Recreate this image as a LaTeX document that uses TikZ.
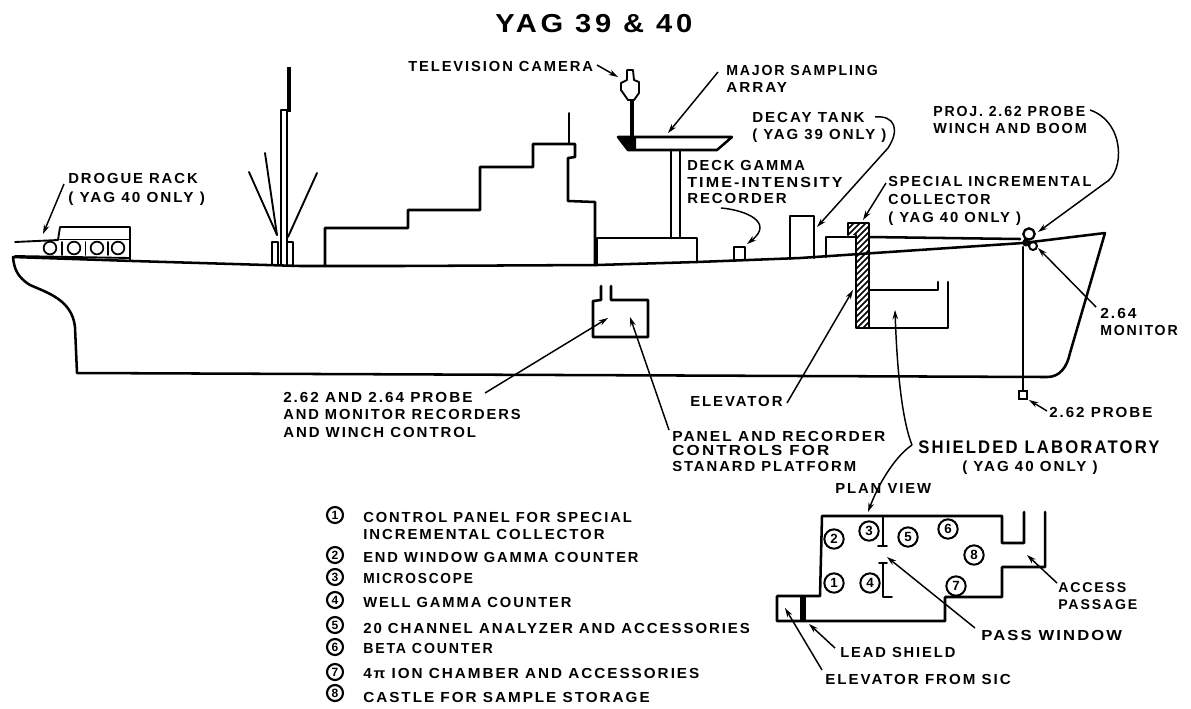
\documentclass[tikz,border=0pt]{standalone}
\usepackage{fontspec}
\usepackage{graphicx}
\setmainfont{Liberation Sans}[LetterSpace=13,WordSpace=1.0]
\usetikzlibrary{arrows.meta}
\tikzset{
  x=0.75pt,y=-0.75pt,
  hull/.style={line width=1.9pt,line join=round,line cap=round},
  thin part/.style={line width=1.4pt,line join=round,line cap=round},
  lead/.style={line width=1.1pt,-{Stealth[length=7pt,width=4.2pt]}},
  lab/.style={font=\bfseries\fontsize{10.6}{12.6}\selectfont,inner sep=0pt,align=left,anchor=north west,yshift=8pt},
  num/.style={circle,draw,line width=1.5pt,inner sep=0pt,minimum size=14.5pt,font=\bfseries\fontsize{10}{10}\selectfont},
  numsmall/.style={num,line width=1.6pt,minimum size=12pt,font=\bfseries\fontsize{9}{9}\selectfont}
}
\newcommand\Lbl[4]{\node[lab] (#1) at (#2,#3) {\rule{0pt}{8pt}#4};}
\newcommand\sx[2]{\scalebox{#1}[1.03]{#2}}
\begin{document}
\begin{tikzpicture}
\useasboundingbox (0,0) rectangle (1191,708);
% title
\node[font=\bfseries\fontsize{19.5}{20}\selectfont,inner sep=0pt,anchor=base west] (title) at (495,32) {\scalebox{1.12}[1]{YAG 39 \& 40}};
% hull
\draw[hull] (13,257) .. controls (14,268) and (17,277) .. (30,285) .. controls (48,293) and (72,300) .. (75,327)
  -- (77,373) -- (1047,377) .. controls (1060,377) and (1067,367) .. (1070,353) -- (1105,233)
  -- (1023,243) -- (800,258) -- (697,262) -- (597,265) -- (400,266) -- (300,266) -- (133,261) -- cycle;
% drogue rack
\draw[thin part] (15,242) -- (58,240) -- (60,227) -- (130,227) -- (130,260);
\draw[thin part] (60,239.5) -- (130,239.5);
\draw[thin part] (15,256) -- (130,258);
\foreach \n/\cx in {d1/50,d2/74,d3/97,d4/118}
  \node[circle,draw,line width=1.3pt,minimum size=9.5pt,inner sep=0pt] (\n) at (\cx,248) {};
\draw[thin part] (62,242) -- (62,255) (85.5,242) -- (85.5,255) (108,242) -- (108,255);
% mast
\draw[line width=3.6pt] (289,67) -- (289,112);
\draw[thin part] (281,265) -- (281,110) -- (287,110) -- (287,265);
\draw[thin part] (272,265) -- (272,242) -- (278,242) -- (278,265);
\draw[thin part] (287,242) -- (293,242) -- (293,265);
\draw[thin part] (249,172) -- (277,235);
\draw[thin part] (265,153) -- (277,235);
\draw[thin part] (317,173) -- (288,237);
% superstructure
\draw[hull] (325,265) -- (325,228) -- (408,228) -- (408,210) -- (480,210) -- (480,167) -- (533,167) -- (533,144)
  -- (575,144) -- (575,157) -- (568,158) -- (568,201) -- (595,202) -- (595,265);
\draw[thin part] (569,113) -- (569,144);
% platform and pole
\draw[hull] (597,265) -- (597,238) -- (697,238) -- (697,262);
\draw[hull] (671,238) -- (671,150) (680,238) -- (680,150);
% sampling array
\draw[hull] (618,137) -- (732,137) -- (717,150) -- (628,150) -- cycle;
\fill (618,137) -- (636,137) -- (636,150) -- (628,150) -- cycle;
% camera
\draw[line width=2.8pt] (632,100) -- (632,137);
\draw[thin part] (627,70) -- (633,70) -- (634,80) -- (639,82) -- (639,93) -- (634,100) -- (628,100) -- (621,90) -- (621,83) -- (627,80) -- cycle;
% compartment below deck
\draw[hull] (601,286) -- (601,300) -- (593,301) -- (593,337) -- (648,337) -- (648,300) -- (611,300) -- (611,286);
% recorder, decay tank, collector housing
\draw[thin part] (734,261) -- (734,247) -- (745,247) -- (745,260);
\draw[hull] (790,259) -- (790,216) -- (814,216) -- (814,258);
\draw[hull] (826,257) -- (826,237) -- (856,237);
\draw[hull] (869,237) -- (1020,239);
% elevator trunk
\begin{scope}
\clip (848,223) -- (869,223) -- (869,328) -- (856,328) -- (856,235) -- (848,235) -- cycle;
\foreach \i in {0,6,...,138} \draw[line width=1.2pt] (845,232+\i) -- (872,205+\i);
\end{scope}
\draw[hull] (848,235) -- (848,223) -- (869,223) -- (869,328);
\draw[hull] (856,235) -- (856,328) -- (948,328) -- (948,282);
\draw[hull] (869,290) -- (938,290) -- (938,282);
% winch, boom and probe
\node[circle,draw,line width=1.7pt,minimum size=8.5pt,inner sep=0pt] (winch) at (1029,234) {};
\node[circle,draw,line width=1.5pt,minimum size=6pt,inner sep=0pt] (mon) at (1033,246) {};
\fill (1026,243) circle (3.5);
\node[draw,line width=1.6pt,minimum size=6.5pt,inner sep=0pt] (probe) at (1023,395) {};
\draw[hull] (winch) -- (1023,243);
\draw[hull] (1023,247) -- (probe);
% plan view
\draw[hull] (1024,512) -- (1024,543) -- (1002,543) -- (1002,516) -- (822,516) -- (820,596) -- (777,596) -- (777,621)
  -- (945,621) -- (945,597) -- (1002,597) -- (1002,567) -- (1045,567) -- (1045,512);
\draw[line width=4.5pt] (803,597) -- (803,620);
\draw[thin part] (883,516) -- (883,546) (878,546) -- (887,546);
\draw[thin part] (879,563) -- (887,563) (883,563) -- (883,597) -- (892,597);
\foreach \n/\t/\cx/\cy in {p1/1/834/583,p2/2/834/539,p3/3/869/531,p4/4/870/583,p5/5/908/537,p6/6/948/529,p7/7/956/586,p8/8/974/555}
  \node[num] (\n) at (\cx,\cy) {\t};
% labels
\Lbl{tv}{408}{71}{\sx{1.04}{TELEVISION CAMERA}}
\Lbl{major}{726}{75}{\sx{1.0}{MAJOR SAMPLING}\\\sx{1.08}{ARRAY}}
\Lbl{decay}{752}{122}{\sx{1.07}{DECAY TANK}\\\sx{1.06}{( YAG 39 ONLY )}}
\Lbl{gamma}{687}{170}{\sx{1.035}{DECK GAMMA}\\\sx{1.14}{TIME-INTENSITY}\\\sx{1.06}{RECORDER}}
\Lbl{proj}{933}{116}{\sx{1.0}{PROJ. 2.62 PROBE}\\\sx{1.02}{WINCH AND BOOM}}
\Lbl{special}{888}{186}{\sx{1.025}{SPECIAL INCREMENTAL}\\[1pt]\sx{1.0}{COLLECTOR}\\[1pt]\sx{1.05}{( YAG 40 ONLY )}}
\Lbl{drogue}{68}{183}{\sx{1.05}{DROGUE RACK}\\[1.5pt]\sx{1.08}{( YAG 40 ONLY )}}
\Lbl{mon264}{1100}{318}{\sx{1.1}{2.64}\\\sx{1.0}{MONITOR}}
\Lbl{probe262}{1049}{417}{\sx{1.07}{2.62 PROBE}}
\Lbl{rec}{283}{402}{\sx{1.08}{2.62 AND 2.64 PROBE}\\\sx{1.04}{AND MONITOR RECORDERS}\\[1.5pt]\sx{1.06}{AND WINCH CONTROL}}
\Lbl{elev}{690}{406}{\sx{1.055}{ELEVATOR}}
\Lbl{panel}{672}{441}{\sx{1.10}{PANEL AND RECORDER}\\[-2pt]\sx{1.195}{CONTROLS FOR}\\[-.2pt]\sx{1.05}{STANARD PLATFORM}}
\node[lab,font=\bfseries\fontsize{12.2}{14}\selectfont,yshift=2pt] (shield) at (918,453) {\rule{0pt}{10pt}\scalebox{1.025}[1.12]{SHIELDED LABORATORY}};
\Lbl{yag40}{962}{471}{\sx{1.07}{( YAG 40 ONLY )}}
\Lbl{plan}{835}{493}{\sx{1.05}{PLAN VIEW}}
\Lbl{access}{1058}{592}{ACCESS\\PASSAGE}
\Lbl{pass}{981}{640}{\sx{1.175}{PASS WINDOW}}
\Lbl{leadsh}{840}{657}{\sx{1.04}{LEAD SHIELD}}
\Lbl{sic}{825}{684}{\sx{1.07}{ELEVATOR FROM SIC}}
% key
\foreach \n/\t/\cy in {k1/1/515,k2/2/555,k3/3/577,k4/4/600,k5/5/625,k6/6/647,k7/7/672,k8/8/693}
  \node[numsmall] (\n) at (335,\cy) {\t};
\Lbl{t1}{363}{522}{\sx{1.04}{CONTROL PANEL FOR SPECIAL}\\\sx{1.057}{INCREMENTAL COLLECTOR}}
\Lbl{t2}{363}{562}{\sx{1.038}{END WINDOW GAMMA COUNTER}}
\Lbl{t3}{363}{583}{\sx{0.97}{MICROSCOPE}}
\Lbl{t4}{363}{607}{\sx{1.04}{WELL GAMMA COUNTER}}
\Lbl{t5}{363}{633}{\sx{1.06}{20 CHANNEL ANALYZER AND ACCESSORIES}}
\Lbl{t6}{363}{653}{\sx{1.0}{BETA COUNTER}}
\Lbl{t7}{363}{678}{\sx{1.08}{4π ION CHAMBER AND ACCESSORIES}}
\Lbl{t8}{363}{702}{\sx{1.08}{CASTLE FOR SAMPLE STORAGE}}
% leader ends
\coordinate (aDrogue) at (64,184); \coordinate (bDrogue) at (43,234);
\coordinate (aTv) at (597,65); \coordinate (bTv) at (618,77);
\coordinate (aMajor) at (718,72); \coordinate (bMajor) at (668,133);
\coordinate (aGamma) at (721,208); \coordinate (bGamma) at (747,244);
\coordinate (aDecay) at (875,117); \coordinate (bDecay) at (817,227);
\coordinate (aSpec) at (886,183); \coordinate (bSpec) at (863,220);
\coordinate (aProj) at (1090,110); \coordinate (bProj) at (1038,232);
\coordinate (aMon) at (1096,307); \coordinate (bMon) at (1038,248);
\coordinate (aProbe) at (1047,411); \coordinate (bProbe) at (1029,400);
\coordinate (aRec) at (485,393); \coordinate (bRec) at (608,318);
\coordinate (aPanel) at (669,430); \coordinate (bPanel) at (630,317);
\coordinate (aElev) at (787,403); \coordinate (bElev) at (853,290);
\coordinate (aLab) at (912,445); \coordinate (bLab) at (895,310); \coordinate (cLab) at (868,512);
\coordinate (aAcc) at (1057,583); \coordinate (bAcc) at (1027,555);
\coordinate (aPass) at (975,628); \coordinate (bPass) at (887,557);
\coordinate (aLead) at (835,648); \coordinate (bLead) at (809,624);
\coordinate (aSic) at (822,670); \coordinate (bSic) at (785,608);
% leaders
\draw[lead] (aDrogue) -- (bDrogue);
\draw[lead] (aTv) -- (bTv);
\draw[lead] (aMajor) -- (bMajor);
\draw[lead] (aGamma) .. controls (745,210) and (775,222) .. (bGamma);
\draw[lead] (aDecay) .. controls (895,115) and (900,130) .. (888,148) -- (bDecay);
\draw[lead] (aSpec) -- (bSpec);
\draw[lead] (aProj) .. controls (1125,122) and (1125,172) .. (1105,183) -- (bProj);
\draw[lead] (aMon) -- (bMon);
\draw[lead] (aProbe) -- (bProbe);
\draw[lead] (aRec) -- (bRec);
\draw[lead] (aPanel) -- (bPanel);
\draw[lead] (aElev) -- (bElev);
\draw[lead] (aLab) .. controls (902,420) and (897,370) .. (bLab);
\draw[lead] (aLab) .. controls (897,455) and (880,480) .. (cLab);
\draw[lead] (aAcc) -- (bAcc);
\draw[lead] (aPass) -- (bPass);
\draw[lead] (aLead) -- (bLead);
\draw[lead] (aSic) -- (bSic);
\end{tikzpicture}
\end{document}
